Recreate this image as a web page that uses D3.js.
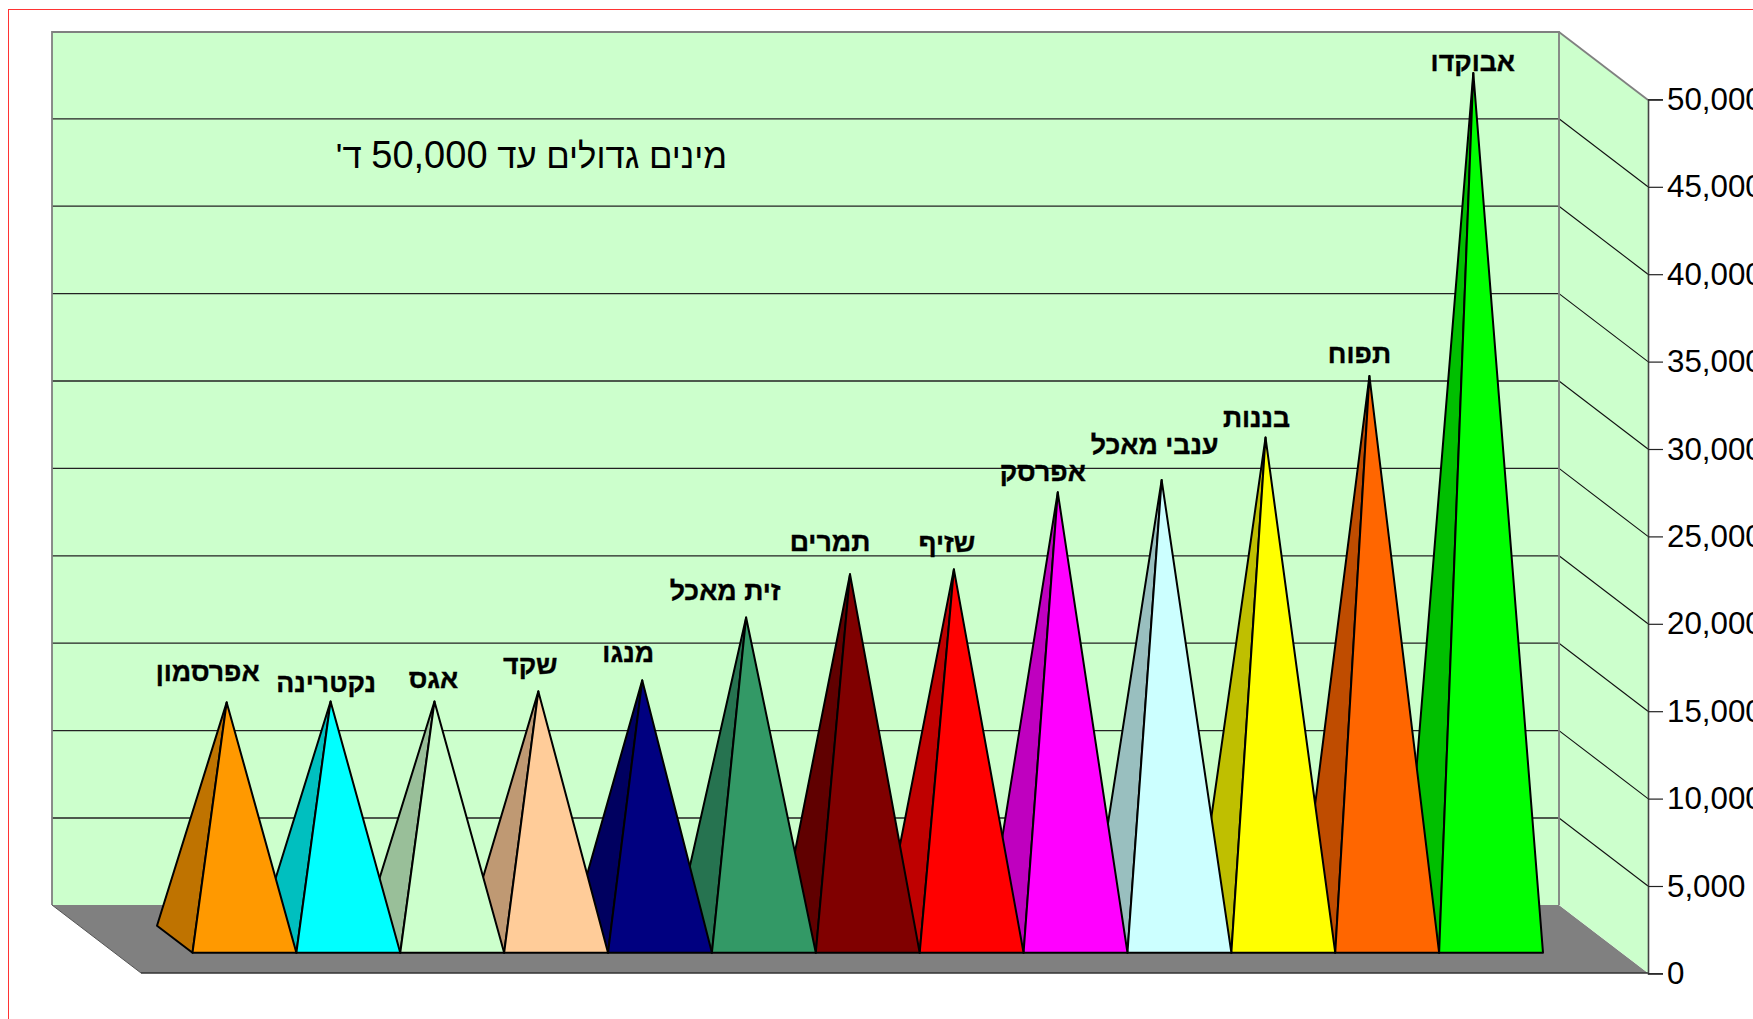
<!DOCTYPE html>
<html><head><meta charset="utf-8">
<script src="https://cdn.jsdelivr.net/npm/d3@7/dist/d3.min.js"></script>
<style>html,body{margin:0;padding:0;background:#fff;overflow:hidden}svg{display:block}</style>
</head><body><svg id="c" width="1753" height="1019"></svg>
<script>
const categories=["אפרסמון","נקטרינה","אגס","שקד","מנגו","זית מאכל","תמרים","שזיף","אפרסק","ענבי מאכל","בננות","תפוח","אבוקדו"];
const values=[13570,13620,13620,14200,14830,18430,20900,21180,25590,26290,28720,32240,49570];
const frontColors=["#FF9900","#00FFFF","#CCFFCC","#FFCC99","#000080","#339966","#800000","#FF0000","#FF00FF","#CCFFFF","#FFFF00","#FF6600","#00FF00"];
const sideColors=["#BF7300","#00BFBF","#99BF99","#BF9973","#000060","#267350","#600000","#BF0000","#BF00BF","#99BFBF","#BFBF00","#BF4C00","#00BF00"];
const tickValues=[0,5000,10000,15000,20000,25000,30000,35000,40000,45000,50000];
const titleParts=["מינים גדולים עד ","50,000"," ד'"];
// label placement relative to each apex (layout, not data)
const labelDx=[-19,-4.5,-1,-8,-14,-21,-20,-7,-15,-7,-9,-10,-0.5];
const labelDy=[-21,-10,-14,-17,-18,-17,-23,-17,-11,-26,-11,-13,-2];

const L=52,T=32,R=1559,B=905,ddx=89,ddy=68,baseL=192.5,baseR=1543,baseY=952.7,colDx=-35.5,colDy=-27;
const svg=d3.select("#c");
const yFront=d3.scaleLinear().domain([0,50000]).range([973.4,99.4]);
const yBack=v=>yFront(v)-ddy;
const yMid=v=>yFront(v)-(973-baseY)+colDy/2;
const x=d3.scaleBand().domain(categories).range([baseL,baseR]).paddingInner(0).paddingOuter(0);
const line=d3.line();

svg.append("rect").attr("x",8.5).attr("y",9.5).attr("width",1760).attr("height",1030).attr("fill","#fff").attr("stroke","#f33").attr("stroke-width",1);

// floor
svg.append("path").attr("d",line([[L,B],[R,B],[R+ddx,B+ddy],[L+ddx,B+ddy]])+"Z").attr("fill","#808080");
// back and side wall
svg.append("rect").attr("x",L).attr("y",T).attr("width",R-L).attr("height",B-T).attr("fill","#CCFFCC");
svg.append("path").attr("d",line([[R,T],[R+ddx,T+ddy],[R+ddx,B+ddy],[R,B]])+"Z").attr("fill","#CCFFCC");
// gridlines
const grid=tickValues.slice(1,-1);
svg.append("g").selectAll("line").data(grid).join("line").attr("x1",L).attr("x2",R).attr("y1",d=>yBack(d)).attr("y2",d=>yBack(d)).attr("stroke","#222").attr("stroke-width",1.3);
svg.append("g").selectAll("line").data(grid).join("line").attr("x1",R).attr("x2",R+ddx).attr("y1",d=>yBack(d)).attr("y2",d=>yFront(d)).attr("stroke","#111").attr("stroke-width",1.1);
// wall borders
svg.append("path").attr("d",line([[L,B],[L,T],[R,T],[R,B]])).attr("fill","none").attr("stroke","#808080").attr("stroke-width",1.8);
svg.append("path").attr("d",line([[R,T],[R+ddx,T+ddy]])).attr("fill","none").attr("stroke","#808080").attr("stroke-width",1.8);
svg.append("path").attr("d",line([[L,B],[L+ddx,B+ddy]])).attr("fill","none").attr("stroke","#555").attr("stroke-width",1);
svg.append("path").attr("d",line([[L+ddx,B+ddy],[R+ddx,B+ddy]])).attr("fill","none").attr("stroke","#333").attr("stroke-width",1.4);

// axis
const axis=d3.axisRight(yFront).tickValues(tickValues).tickFormat(d3.format(",")).tickSize(15).tickPadding(4);
const ag=svg.append("g").attr("transform",`translate(${R+ddx},0)`).call(axis);
ag.select(".domain").attr("stroke","#444").attr("stroke-width",1.6);
ag.selectAll(".tick line").attr("stroke","#222").attr("stroke-width",1.2);
ag.selectAll("text").attr("font-family","'Liberation Sans',Arial,sans-serif").attr("font-size",31.3).attr("fill","#000");

// pyramids, drawn right to left so that each front face covers the next side face
const idx=d3.range(categories.length).reverse();
const g=svg.append("g").selectAll("g").data(idx).join("g");
const fl=i=>x(categories[i]), fr=i=>x(categories[i])+x.bandwidth();
const apex=i=>[fl(i)+x.bandwidth()/2+colDx/2,yMid(values[i])];
g.append("path").attr("d",i=>line([[fl(i),baseY],[fl(i)+colDx,baseY+colDy],apex(i)])+"Z").attr("fill",i=>sideColors[i]).attr("stroke","#000").attr("stroke-width",2).attr("stroke-linejoin","round");
g.append("path").attr("d",i=>line([[fl(i),baseY],[fr(i),baseY],apex(i)])+"Z").attr("fill",i=>frontColors[i]).attr("stroke","#000").attr("stroke-width",2).attr("stroke-linejoin","round");

// labels
svg.append("g").selectAll("text").data(d3.range(categories.length)).join("text")
 .attr("x",i=>apex(i)[0]+labelDx[i]).attr("y",i=>apex(i)[1]+labelDy[i])
 .attr("text-anchor","middle").attr("direction","rtl")
 .attr("font-family","'Liberation Sans',Arial,sans-serif").attr("font-weight","bold").attr("font-size",26.7).attr("fill","#000").attr("stroke","#000").attr("stroke-width",0.35)
 .text(i=>categories[i]);
const title=svg.append("text").attr("x",531.5).attr("y",168).attr("text-anchor","middle").attr("direction","rtl")
 .attr("font-family","'Liberation Sans',Arial,sans-serif").attr("font-size",34.7).attr("fill","#000");
title.selectAll("tspan").data(titleParts).join("tspan").attr("font-size",(d,i)=>i===1?38:null).attr("xml:space","preserve").style("white-space","pre").text(d=>d);
</script></body></html>
